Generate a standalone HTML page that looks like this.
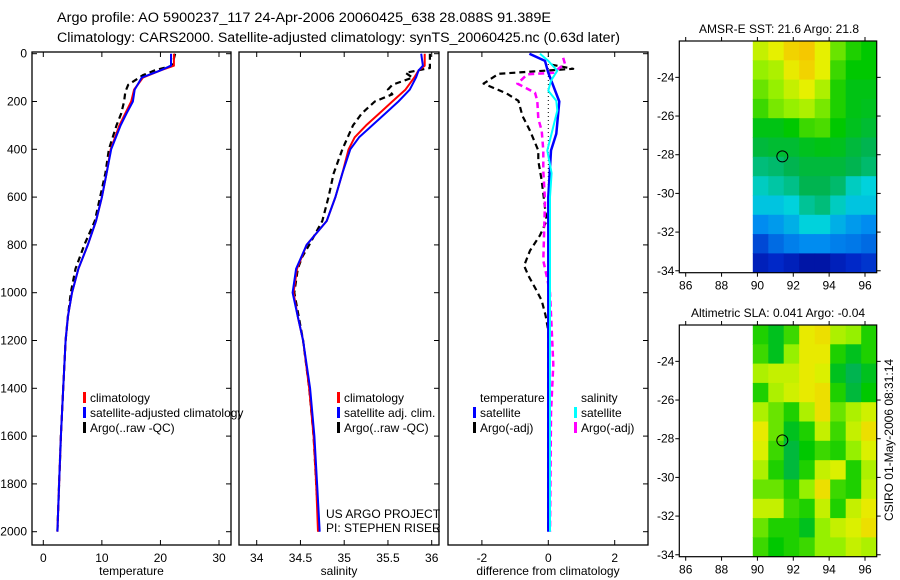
<!DOCTYPE html>
<html><head><meta charset="utf-8">
<style>
html,body{margin:0;padding:0;background:#fff;}
svg{display:block;font-family:"Liberation Sans",sans-serif;}
text{fill:#000;}
</style></head>
<body>
<svg id="c" width="900" height="580" viewBox="0 0 900 580">
<text x="57" y="22" font-size="13.5" textLength="494" lengthAdjust="spacingAndGlyphs">Argo profile: AO 5900237_117 24-Apr-2006 20060425_638 28.088S 91.389E</text>
<text x="57" y="42" font-size="13.5" textLength="563" lengthAdjust="spacingAndGlyphs">Climatology: CARS2000. Satellite-adjusted climatology: synTS_20060425.nc (0.63d later)</text>
<text x="779" y="33" font-size="12" text-anchor="middle">AMSR-E SST: 21.6 Argo: 21.8</text>
<text x="778" y="317" font-size="12" text-anchor="middle">Altimetric SLA: 0.041 Argo: -0.04</text>
<text transform="translate(893,440) rotate(-90)" font-size="12" text-anchor="middle">CSIRO 01-May-2006 08:31:14</text>
<g id="plots"></g>
</svg>
<script>
// ---- data ----
const tDepth = [0,50,70,100,150,200,250,300,400,500,600,700,800,900,1000,1100,1200,1400,1600,1800,2000];
const tClim  = [22.3,22.3,20,17,15.5,15,14,13,11.5,10.8,10,9,7.6,6,4.9,4.2,3.8,3.4,3.0,2.7,2.4];
const tSat   = [21.8,21.8,20,16.8,15.6,15.3,14.2,13.2,11.6,10.8,10,9,7.6,6,4.9,4.2,3.8,3.4,3.0,2.7,2.4];
const tArgoDepth = [0,50,70,90,130,160,200,250,300,400,500,600,700,800,900,1000,1100,1200,1400,1600,1800,2000];
const tArgo  = [22.5,22,19,17,14.5,14,13.8,13.3,12.5,11.2,10.6,9.7,8.8,7.0,5.5,4.7,4.2,3.8,3.4,3.0,2.7,2.4];

const sDepth = [0,50,70,100,150,200,250,300,350,400,500,600,700,800,900,1000,1100,1200,1400,1600,1800,2000];
const sClim  = [35.92,35.92,35.85,35.8,35.7,35.55,35.4,35.25,35.12,35.05,34.98,34.9,34.8,34.57,34.46,34.42,34.47,34.53,34.6,34.65,34.68,34.7];
const sSat   = [35.88,35.9,35.85,35.82,35.75,35.62,35.47,35.32,35.17,35.07,34.98,34.9,34.8,34.57,34.45,34.41,34.47,34.53,34.61,34.66,34.69,34.72];
const sArgoDepth = [0,60,80,100,130,150,170,200,250,300,400,500,600,700,800,850,900,1000,1200,1400,1600,1800,2000];
const sArgo  = [35.98,35.98,35.7,35.78,35.55,35.5,35.55,35.35,35.2,35.1,34.98,34.88,34.82,34.75,34.6,34.52,34.47,34.43,34.53,34.6,34.65,34.68,34.71];

const dDepth = [0,30,80,200,335,405,600,1000,2000];
const dTsat  = [-0.57,-0.1,0,0.33,0.24,0.08,0,0,0];
const dTargoDepth = [46,63,84,125,167,197,260,322,405,448,531,699,760,824,887,929,992,1033,1096,1159,1400,2000];
const dTargo = [0.1,0.75,-1.5,-1.95,-1.25,-0.9,-0.78,-0.55,-0.3,-0.3,-0.2,-0.05,-0.25,-0.55,-0.73,-0.6,-0.35,-0.2,-0.08,0,0,0];
const dSsatDepth = [0,30,71,113,155,197,238,322,405,500,600,1000,2000];
const dSsat  = [-0.25,0,0.27,0.08,0,0.24,0.27,0.12,-0.03,0.1,0.05,0.05,0.05];
const dSargoDepth = [17,42,80,86,125,163,197,272,322,405,490,615,866,929,1000,1300,1500,2000];
const dSargo = [0.45,0.5,0.15,-0.63,-0.93,-0.4,-0.33,-0.3,-0.2,-0.15,-0.15,-0.1,-0.15,-0.05,0.05,0.15,0.08,0.05];

const sstGrid = [
[0.72,0.75,0.8,0.82,0.75,0.65,0.6,0.58],
[0.68,0.7,0.76,0.8,0.75,0.62,0.58,0.58],
[0.65,0.68,0.72,0.75,0.7,0.6,0.56,0.56],
[0.62,0.66,0.68,0.7,0.66,0.6,0.56,0.55],
[0.56,0.56,0.58,0.62,0.63,0.58,0.55,0.53],
[0.52,0.53,0.53,0.55,0.56,0.55,0.52,0.5],
[0.47,0.48,0.5,0.52,0.52,0.52,0.5,0.48],
[0.42,0.44,0.46,0.5,0.5,0.48,0.42,0.4],
[0.38,0.38,0.4,0.45,0.47,0.42,0.38,0.38],
[0.3,0.32,0.35,0.4,0.4,0.35,0.32,0.3],
[0.2,0.25,0.28,0.3,0.3,0.28,0.27,0.25],
[0.12,0.15,0.12,0.08,0.08,0.12,0.15,0.17]];
const slaGrid = [
[0.6,0.55,0.62,0.76,0.78,0.7,0.68,0.6],
[0.62,0.55,0.68,0.76,0.76,0.6,0.55,0.6],
[0.7,0.72,0.72,0.76,0.74,0.55,0.5,0.55],
[0.6,0.7,0.73,0.76,0.78,0.6,0.52,0.58],
[0.7,0.65,0.6,0.7,0.78,0.65,0.7,0.73],
[0.76,0.65,0.55,0.6,0.72,0.62,0.72,0.78],
[0.74,0.62,0.52,0.58,0.62,0.6,0.68,0.74],
[0.7,0.6,0.52,0.6,0.72,0.74,0.6,0.7],
[0.65,0.65,0.6,0.68,0.78,0.62,0.6,0.72],
[0.72,0.72,0.62,0.6,0.72,0.6,0.72,0.76],
[0.65,0.6,0.6,0.55,0.68,0.72,0.74,0.78],
[0.62,0.58,0.6,0.62,0.68,0.68,0.72,0.7]];
const lonTicks = [86,88,90,92,94,96];
const latTicks = [-24,-26,-28,-30,-32,-34];
const depthTicks = [0,200,400,600,800,1000,1200,1400,1600,1800,2000];
const tempTicks = [0,10,20,30];
const salTicks = [34,34.5,35,35.5,36];
const diffTicks = [-2,0,2];

// ---- helpers ----
const NS='http://www.w3.org/2000/svg';
const root=document.getElementById('plots');
function mk(tag,attrs,parent){const e=document.createElementNS(NS,tag);for(const k in attrs)e.setAttribute(k,attrs[k]);(parent||root).appendChild(e);return e;}
const yD = d => 53.7 + d*0.2390;
const PT=52, PB=545;

function panel(name,x0,x1,sx,ticks,label,showDepth){
  const g=mk('g',{});
  
  
  const r=mk('rect',{x:x0,y:PT,width:x1-x0,height:PB-PT,fill:'none',stroke:'#000','stroke-width':1.3},g);
  
  
  ticks.forEach(v=>{
    const x=sx(v);
    mk('line',{x1:x,x2:x,y1:PB,y2:PB-5,stroke:'#000'},g);
    mk('line',{x1:x,x2:x,y1:PT,y2:PT+5,stroke:'#000'},g);
    const t=mk('text',{x:x,y:PB+17,'font-size':12,'text-anchor':'middle'},g);
    t.textContent=v;
    
    
  });
  depthTicks.forEach(d=>{
    const y=yD(d);
    mk('line',{x1:x1,x2:x1-5,y1:y,y2:y,stroke:'#000'},g);
    if(showDepth){
      mk('line',{x1:x0,x2:x0+5,y1:y,y2:y,stroke:'#000'},g);
      const t=mk('text',{x:x0-5,y:y+4,'font-size':12,'text-anchor':'end'},g);
      t.textContent=d;
      
      
    }
  });
  const l=mk('text',{x:(x0+x1)/2,y:575,'font-size':12,'text-anchor':'middle'},g);
  l.textContent=label;
  
  
  return g;
}
function line(name,g,depths,vals,sx,color,w,dash){
  const pts=depths.map((d,i)=>sx(vals[i]).toFixed(1)+','+yD(d).toFixed(1)).join(' ');
  const p=mk('polyline',{points:pts,fill:'none',stroke:color,'stroke-width':w,'stroke-dasharray':dash||'none','stroke-linejoin':'round'},g);
  
  
}
function legend(g,x,y,items){
  items.forEach((it,i)=>{
    const yy=y+i*15;
    if(it[0]) mk('rect',{x:x,y:yy-10,width:3,height:11,fill:it[0]},g);
    const t=mk('text',{x:x+7,y:yy,'font-size':12},g);
    t.textContent=it[1];
    
    
  });
}

// temperature
const sxT=v=>43.3+v*5.857;
const gT=panel('temperature',32,231,sxT,tempTicks,'temperature',true);
line('temp-argo-line',gT,tArgoDepth,tArgo,sxT,'#000',2.2,'6,4');
line('temp-climatology-line',gT,tDepth,tClim,sxT,'#f00',2);
line('temp-satellite-line',gT,tDepth,tSat,sxT,'#00f',2);
legend(gT,83,402,[['#f00','climatology'],['#00f','satellite-adjusted climatology'],['#000','Argo(..raw -QC)']]);

// salinity
const sxS=v=>256.7+(v-34)*87.5;
const gS=panel('salinity',239,439,sxS,salTicks,'salinity',false);
line('sal-argo-line',gS,sArgoDepth,sArgo,sxS,'#000',2.2,'6,4');
line('sal-climatology-line',gS,sDepth,sClim,sxS,'#f00',2);
line('sal-satellite-line',gS,sDepth,sSat,sxS,'#00f',2);
legend(gS,337,402,[['#f00','climatology'],['#00f','satellite adj. clim.'],['#000','Argo(..raw -QC)']]);
[['US ARGO PROJECT',518],['PI: STEPHEN RISER',532]].forEach(a=>{const t=mk('text',{x:326,y:a[1],'font-size':12},gS);t.textContent=a[0];});

// difference
const sxD=v=>548.3+v*33.2;
const gD=panel('difference',448,648,sxD,diffTicks,'difference from climatology',false);
mk('line',{x1:sxD(0),x2:sxD(0),y1:PT,y2:yD(2000),stroke:'#000','stroke-dasharray':'1,3'},gD);
line('diff-temp-argo-line',gD,dTargoDepth,dTargo,sxD,'#000',2.2,'6,4');
line('diff-sal-argo-line',gD,dSargoDepth,dSargo,sxD,'#f0f',2.5,'6,4');
line('diff-temp-satellite-line',gD,dDepth,dTsat,sxD,'#00f',2.5);
line('diff-sal-satellite-line',gD,dSsatDepth,dSsat,sxD,'#0ff',2);
legend(gD,473,402,[[null,'temperature'],['#00f','satellite'],['#000','Argo(-adj)']]);
legend(gD,574,402,[[null,'salinity'],['#0ff','satellite'],['#f0f','Argo(-adj)']]);

// maps
const cstops=[[0,[0,0,128]],[0.15,[0,40,200]],[0.3,[0,140,240]],[0.4,[0,210,220]],[0.5,[0,180,80]],[0.58,[0,200,0]],[0.68,[150,240,0]],[0.75,[230,240,0]],[0.82,[245,200,0]],[1,[250,140,0]]];
function cmap(v){for(let i=1;i<cstops.length;i++){if(v<=cstops[i][0]){const a=cstops[i-1],b=cstops[i];const f=(v-a[0])/(b[0]-a[0]);const c=a[1].map((x,j)=>Math.round(x+(b[1][j]-x)*f));return 'rgb('+c+')';}}return 'rgb(250,140,0)';}
function map(name,top,bottom,grid){
  const g=mk('g',{});
  
  
  const L=679.3,R=876.7;
  const sx=lon=>685.7+(lon-86)*17.93;
  const latTop=-22.12, latBot=-34.1;
  const sy=lat=>top+(latTop-lat)*(bottom-top)/(latTop-latBot);
  const lon0=89.74, lon1=86+(R-685.7)/17.93, nr=grid.length, nc=grid[0].length;
  const cw=(lon1-lon0)/nc, ch=(latTop-latBot)/nr;
  grid.forEach((row,r)=>row.forEach((v,c)=>{
    const x=sx(lon0+c*cw), y=sy(latTop-r*ch);
    const w=Math.min(sx(lon0+(c+1)*cw)+0.6,R)-x;
    const h=Math.min(sy(latTop-(r+1)*ch)+0.6,bottom)-y;
    const cell=mk('rect',{x:x.toFixed(1),y:y.toFixed(1),width:w.toFixed(1),height:h.toFixed(1),fill:cmap(v)},g);
    
    
  }));
  mk('rect',{x:L,y:top,width:R-L,height:bottom-top,fill:'none',stroke:'#000','stroke-width':1.2},g);
  lonTicks.forEach(lon=>{const x=sx(lon);mk('line',{x1:x,x2:x,y1:top,y2:top-4,stroke:'#000'},g);mk('line',{x1:x,x2:x,y1:bottom,y2:bottom+4,stroke:'#000'},g);
    const t=mk('text',{x:x,y:bottom+17,'font-size':12,'text-anchor':'middle'},g);t.textContent=lon;});
  latTicks.forEach(lat=>{const y=sy(lat);mk('line',{x1:L,x2:L-4,y1:y,y2:y,stroke:'#000'},g);mk('line',{x1:R,x2:R+4,y1:y,y2:y,stroke:'#000'},g);
    const t=mk('text',{x:L-5,y:y+4,'font-size':12,'text-anchor':'end'},g);t.textContent=lat;});
  const m=mk('circle',{cx:sx(91.389),cy:sy(-28.088),r:5.5,fill:'none',stroke:'#000','stroke-width':1},g);
  
  
}
map('sst-map',41,272.7,sstGrid);
map('sla-map',325,556.7,slaGrid);
</script>
</body></html>
